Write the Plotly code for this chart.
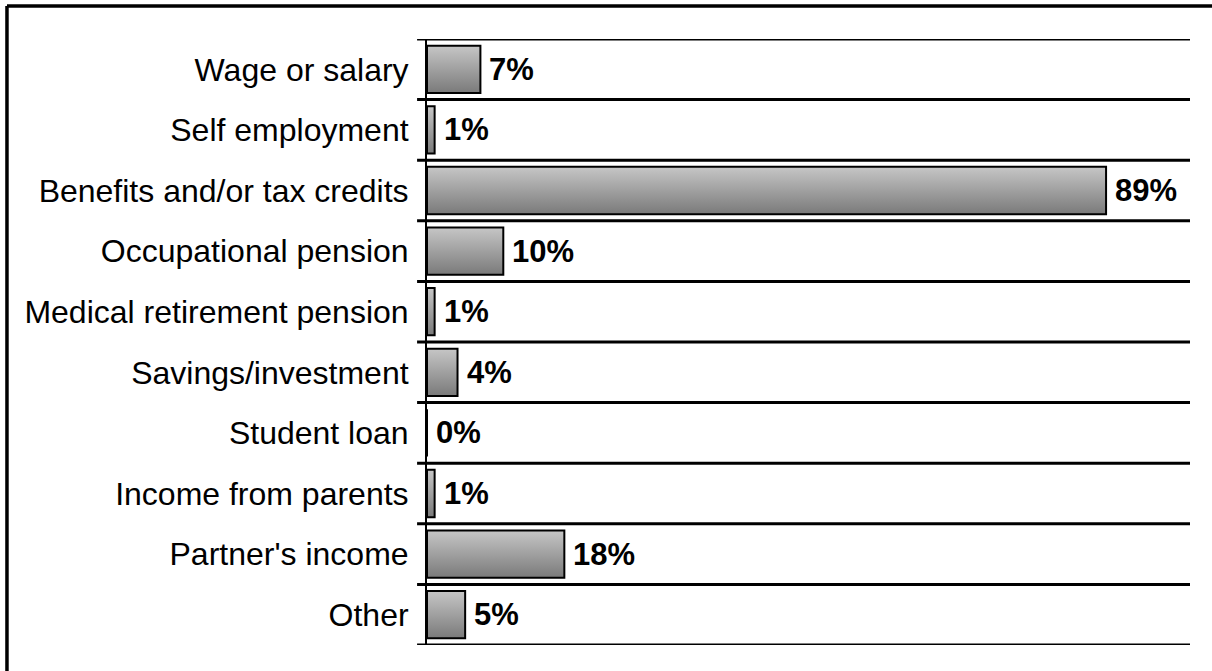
import plotly.graph_objects as go

# Sources of income (share of respondents, %)
categories = [
    "Wage or salary",
    "Self employment",
    "Benefits and/or tax credits",
    "Occupational pension",
    "Medical retirement pension",
    "Savings/investment",
    "Student loan",
    "Income from parents",
    "Partner's income",
    "Other",
]
values = [7, 1, 89, 10, 1, 4, 0, 1, 18, 5]

n = len(categories)
bar_h = 0.78
positions = [n - 1 - i for i in range(n)]  # first category at the top

fig = go.Figure()

# Each bar as a filled polygon so it can carry a vertical grey gradient
for cat, v, y in zip(categories, values, positions):
    y0, y1 = y - bar_h / 2, y + bar_h / 2
    fig.add_trace(go.Scatter(
        x=[0, v, v, 0, 0],
        y=[y0, y0, y1, y1, y0],
        mode="lines",
        fill="toself",
        fillgradient=dict(
            type="vertical",
            colorscale=[[0, "#7a7a7a"], [1, "#c6c6c6"]],
        ),
        line=dict(color="black", width=2),
        hoverinfo="skip",
        name=cat,
        showlegend=False,
    ))

# Value labels to the right of each bar
annotations = [
    dict(
        x=v, y=y, xref="x", yref="y",
        text=f"{v}%", showarrow=False,
        xanchor="left", yanchor="middle", xshift=7,
        font=dict(family="Liberation Sans, Arial", size=31, color="black", weight="bold"),
    )
    for v, y in zip(values, positions)
]

# Horizontal separators between categories, poking slightly left of the axis
shapes = [
    dict(type="line", xref="paper", yref="y", x0=-0.013, x1=1.0,
         y0=k - 0.5, y1=k - 0.5, line=dict(color="black", width=3))
    for k in range(n + 1)
]

# Frame around the chart area (top and left edges)
frame_x, frame_y = -0.5505, 1.0545
shapes += [
    dict(type="line", xref="paper", yref="paper", x0=frame_x, x1=frame_x,
         y0=frame_y, y1=-0.2, line=dict(color="black", width=3.5)),
    dict(type="line", xref="paper", yref="paper", x0=frame_x, x1=1.2,
         y0=frame_y, y1=frame_y, line=dict(color="black", width=3.5)),
]

fig.update_layout(
    width=1212, height=671,
    margin=dict(l=427, r=22, t=39, b=26),
    paper_bgcolor="white", plot_bgcolor="white",
    font=dict(family="Liberation Sans, Arial", size=32, color="black"),
    annotations=annotations,
    shapes=shapes,
    xaxis=dict(range=[0, 100], showgrid=False, zeroline=False,
               showticklabels=False, ticks="", showline=False, fixedrange=True),
    yaxis=dict(range=[-0.5, n - 0.5], tickvals=positions, ticktext=categories,
               showgrid=False, zeroline=False, ticks="", ticklabelstandoff=10,
               showline=True, linecolor="black", linewidth=2,
               tickfont=dict(size=32), fixedrange=True),
    showlegend=False,
)

fig.write_html("out.html")
